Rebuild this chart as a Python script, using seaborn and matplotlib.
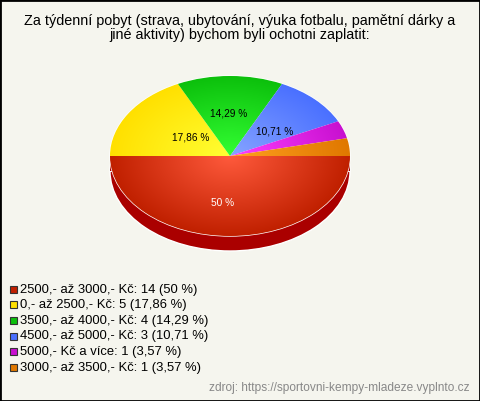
import numpy as np
import matplotlib
matplotlib.use("Agg")
import matplotlib.pyplot as plt
from matplotlib.colors import LinearSegmentedColormap
from matplotlib.patches import Rectangle
import seaborn as sns

categories = ["2500,- až 3000,- Kč", "0,- až 2500,- Kč", "3500,- až 4000,- Kč",
              "4500,- až 5000,- Kč", "5000,- Kč a více", "3000,- až 3500,- Kč"]
counts = [14, 5, 4, 3, 1, 1]
percents = ["50 %", "17,86 %", "14,29 %", "10,71 %", "3,57 %", "3,57 %"]
edge_colors = ["#c02000", "#ffe000", "#0cc00c", "#4a70ff", "#c810d0", "#e07800"]
center_colors = ["#ff5a3c", "#ffff33", "#33ff33", "#86a4ff", "#ff40ff", "#ffa020"]
title = ("Za týdenní pobyt (strava, ubytování, výuka fotbalu, pamětní dárky a\n"
         "jiné aktivity) bychom byli ochotni zaplatit:")
source = "zdroj: https://sportovni-kempy-mladeze.vyplnto.cz"
BG = "#f5f5ee"
W, H = 480, 401

sns.set_theme(style="white")
plt.rcParams["font.family"] = ["Liberation Sans", "DejaVu Sans"]

fig = plt.figure(figsize=(W / 100, H / 100), dpi=100, facecolor=BG)
px = lambda x, y: (x / W, 1 - y / H)

# pie axes: centre (230,156), radii 120x80 px
ax = fig.add_axes([110 / W, 1 - 236 / H, 240 / W, 160 / H])
depth = 15 / 80
dark = sns.color_palette(["#aa0000"] * len(counts))
ax.pie(counts, colors=dark, startangle=0, counterclock=False, radius=1, center=(0, -depth))
ax.add_patch(Rectangle((-1, -depth), 2, depth, color="#aa0000", lw=0))
wedges, _ = ax.pie(counts, colors=edge_colors, startangle=0, counterclock=False, radius=1)
ax.set_aspect("auto")

yy, xx = np.mgrid[-1:1:400j, -1:1:400j]
rr = np.hypot(xx, yy)
for w, c0, c1 in zip(wedges, center_colors, edge_colors):
    cmap = LinearSegmentedColormap.from_list("g", [c0, c1])
    im = ax.imshow(rr, extent=(-1, 1, -1, 1), origin="lower", cmap=cmap, vmin=0, vmax=1,
                   aspect="auto", zorder=w.get_zorder() + 1)
    im.set_clip_path(w)
ax.set_xlim(-1, 1)
ax.set_ylim(-1, 1)
for sp in ax.spines.values():
    sp.set_visible(False)
ax.patch.set_alpha(0)
for art in ax.patches[:len(counts) + 1]:
    art.set_clip_on(False)

# percentage labels
label_pos = [(222.5, 203), (191, 138), (229, 113), (275, 132)]
label_col = ["white", "black", "black", "black"]
for (x, y), s, c in zip(label_pos, percents, label_col):
    fig.text(*px(x, y), s, color=c, fontsize=7.3, ha="center", va="center")

fig.text(*px(239.5, 27.5), title, ha="center", va="center", fontsize=10.4,
         color="black", linespacing=1.0)

# legend
row_h = 15.65
for i, (cat, n, p, col) in enumerate(zip(categories, counts, percents, edge_colors)):
    y = 289.5 + i * row_h
    fig.add_artist(Rectangle(px(9.5, y + 3.3), 7 / W, 7 / H, transform=fig.transFigure,
                             facecolor=col, edgecolor="#333333", lw=0.8))
    fig.text(*px(20, y), f"{cat}: {n} ({p})", fontsize=9.4, color="black", ha="left", va="center")

fig.text(*px(470, 388.5), source, fontsize=8.6, color="#888888", ha="right", va="center")

fig.add_artist(Rectangle((0, 0), 1, 1, transform=fig.transFigure, fill=False,
                         edgecolor="black", lw=2.0))
fig.savefig("out.png", dpi=100, facecolor=BG)
